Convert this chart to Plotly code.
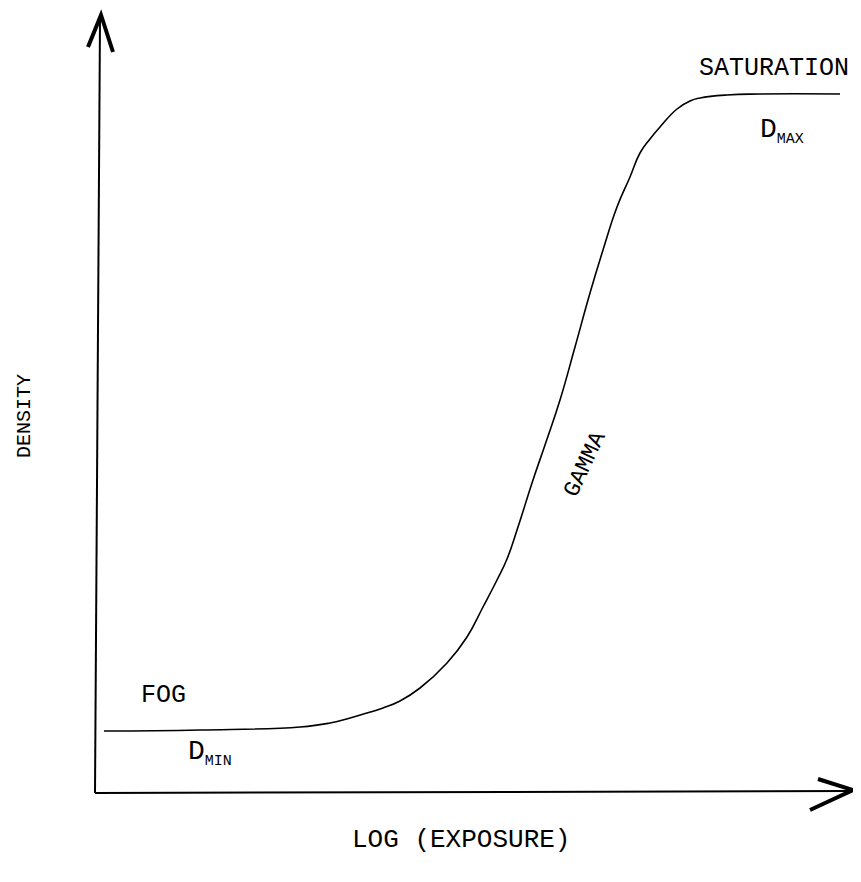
import plotly.graph_objects as go

# Characteristic (H&D) curve: density vs log exposure
log_exposure = [0.09, 1.05, 2.05, 2.35, 2.55, 2.72, 2.88, 3.05, 3.25, 3.52, 3.72,
                3.88, 4.02, 4.12, 4.23, 4.38, 4.50, 4.65, 4.80, 4.95, 5.08, 5.22,
                5.35, 5.45, 5.55, 5.65, 5.82, 5.95, 6.05, 6.32, 6.65, 7.45]
density = [0.62, 0.63, 0.66, 0.70, 0.75, 0.80, 0.85, 0.92, 1.05, 1.30, 1.56,
           1.86, 2.13, 2.34, 2.66, 3.13, 3.48, 3.93, 4.46, 5.00, 5.43, 5.86,
           6.16, 6.40, 6.54, 6.66, 6.84, 6.92, 6.95, 6.98, 6.99, 6.99]

label_font = "Liberation Mono, DejaVu Sans Mono, monospace"

fig = go.Figure()
fig.add_trace(go.Scatter(
    x=log_exposure, y=density, mode="lines",
    line=dict(color="black", width=1.6, shape="spline", smoothing=1.3),
    hoverinfo="skip", showlegend=False,
))

# axes drawn by hand, with open arrowheads
ink = dict(color="black", width=2)
fig.add_shape(type="line", x0=0, y0=0, x1=0.05, y1=7.74, line=ink)
fig.add_shape(type="line", x0=0, y0=0, x1=7.55, y1=0.02, line=ink)
head = dict(color="black", width=4)
fig.add_shape(type="path", path="M -0.07,7.46 L 0.06,7.78 L 0.18,7.41", line=head)
fig.add_shape(type="path", path="M 7.23,0.14 L 7.58,0.03 L 7.15,-0.17", line=head)

def label(x, y, text, size=24, angle=0):
    fig.add_annotation(x=x, y=y, text=text, showarrow=False, textangle=angle,
                       xanchor="center", yanchor="middle",
                       font=dict(family=label_font, size=size, color="black"))

small = "<span style='font-size:15px'>%s</span>"
label(6.79, 7.25, "SATURATION", size=25)
label(6.87, 6.62, "D<sub>" + small % "MAX" + "</sub>", size=28)
label(0.68, 0.98, "FOG", size=25)
label(1.15, 0.40, "D<sub>" + small % "MIN" + "</sub>", size=28)
label(4.90, 3.28, "GAMMA", size=23, angle=-65)
label(3.66, -0.47, "LOG (EXPOSURE)", size=26)
label(-0.71, 3.77, "DENSITY", size=20, angle=-90)

# the page body has an 8px margin, so the figure is 8px smaller and the
# ranges start 8px in from the picture's edge
fig.update_layout(
    width=853, height=874,
    margin=dict(l=0, r=0, t=0, b=0),
    paper_bgcolor="white", plot_bgcolor="white",
    xaxis=dict(range=[-0.87, 7.66], visible=False, fixedrange=True),
    yaxis=dict(range=[-0.89, 7.85], visible=False, fixedrange=True),
)

fig.write_html("out.html")
